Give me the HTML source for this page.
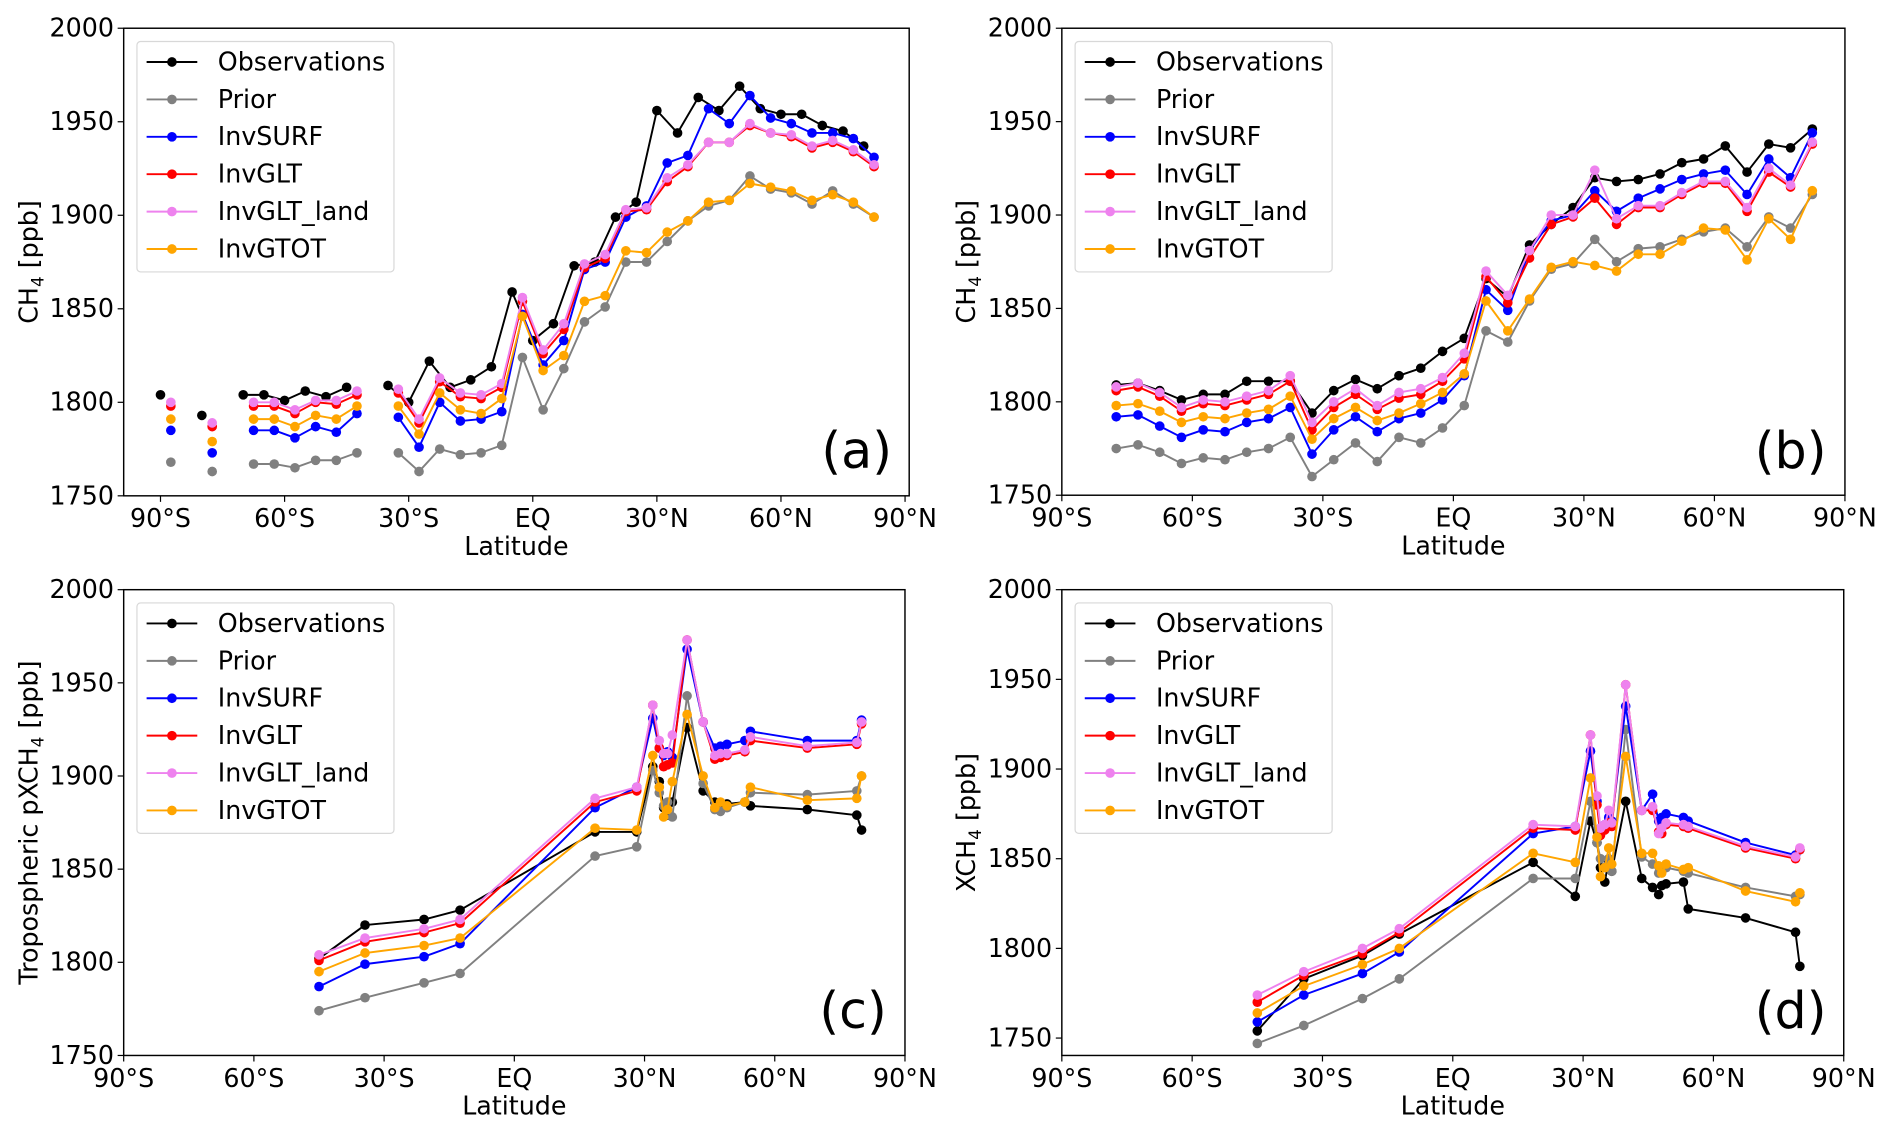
<!DOCTYPE html>
<html><head><meta charset="utf-8"><style>
html,body{margin:0;padding:0;background:#fff;}
svg{display:block;font-family:"DejaVu Sans","Liberation Sans",sans-serif;}
</style></head><body>
<svg id="fig" width="1892" height="1134" viewBox="0 0 1568 940" preserveAspectRatio="none" xmlns="http://www.w3.org/2000/svg"></svg>
<script>
const seriesNames = ["Observations","Prior","InvSURF","InvGLT","InvGLT_land","InvGTOT"];
const seriesColors = ["#000000","#808080","#0000ff","#ff0000","#ee82ee","#ffa500"];
const xTickVals = [-90,-60,-30,0,30,60,90];
const xTickLabels = ["90°S","60°S","30°S","EQ","30°N","60°N","90°N"];
const yTickVals = [1750,1800,1850,1900,1950,2000];

// Panel (a)
const aLatObs = [-90,-85,-80,-75,-70,-65,-60,-55,-50,-45,-40,-35,-30,-25,-20,-15,-10,-5,0,5,10,15,20,25,30,35,40,45,50,55,60,65,70,75,80];
const aLatM = [-87.5,-82.5,-77.5,-72.5,-67.5,-62.5,-57.5,-52.5,-47.5,-42.5,-37.5,-32.5,-27.5,-22.5,-17.5,-12.5,-7.5,-2.5,2.5,7.5,12.5,17.5,22.5,27.5,32.5,37.5,42.5,47.5,52.5,57.5,62.5,67.5,72.5,77.5,82.5];
const aObs = [1804,null,1793,null,1804,1804,1801,1806,1803,1808,null,1809,1800,1822,1808,1812,1819,1859,1833,1842,1873,1875,1899,1907,1956,1944,1963,1956,1969,1957,1954,1954,1948,1945,1937];
const aPrior = [1768,null,1763,null,1767,1767,1765,1769,1769,1773,null,1773,1763,1775,1772,1773,1777,1824,1796,1818,1843,1851,1875,1875,1886,1897,1905,1908,1921,1914,1912,1906,1913,1906,1899];
const aSurf = [1785,null,1773,null,1785,1785,1781,1787,1784,1794,null,1792,1776,1800,1790,1791,1795,1847,1820,1833,1871,1875,1899,1905,1928,1932,1957,1949,1964,1952,1949,1944,1944,1941,1931];
const aGlt = [1798,null,1787,null,1798,1798,1794,1800,1799,1804,null,1805,1789,1811,1803,1802,1808,1854,1826,1839,1872,1877,1902,1903,1918,1926,1939,1939,1948,1944,1942,1936,1939,1934,1926];
const aLand = [1800,null,1789,null,1800,1800,1796,1801,1801,1806,null,1807,1791,1813,1805,1804,1810,1856,1828,1842,1874,1879,1903,1904,1920,1927,1939,1939,1949,1944,1943,1937,1940,1935,1927];
const aGtot = [1791,null,1779,null,1791,1791,1787,1793,1791,1798,null,1798,1783,1805,1796,1794,1802,1846,1817,1825,1854,1857,1881,1880,1891,1897,1907,1908,1917,1915,1913,1908,1911,1907,1899];

// Panel (b)
const bLat = [-77.5,-72.5,-67.5,-62.5,-57.5,-52.5,-47.5,-42.5,-37.5,-32.5,-27.5,-22.5,-17.5,-12.5,-7.5,-2.5,2.5,7.5,12.5,17.5,22.5,27.5,32.5,37.5,42.5,47.5,52.5,57.5,62.5,67.5,72.5,77.5,82.5];
const bObs = [1809,1810,1806,1801,1804,1804,1811,1811,1811,1794,1806,1812,1807,1814,1818,1827,1834,1866,1856,1884,1895,1904,1920,1918,1919,1922,1928,1930,1937,1923,1938,1936,1946];
const bPrior = [1775,1777,1773,1767,1770,1769,1773,1775,1781,1760,1769,1778,1768,1781,1778,1786,1798,1838,1832,1854,1871,1874,1887,1875,1882,1883,1887,1891,1893,1883,1899,1893,1911];
const bSurf = [1792,1793,1787,1781,1785,1784,1789,1791,1797,1772,1785,1792,1784,1791,1794,1801,1814,1860,1849,1881,1897,1900,1913,1902,1909,1914,1919,1922,1924,1911,1930,1920,1944];
const bGlt = [1806,1808,1803,1795,1799,1798,1801,1804,1811,1785,1797,1804,1796,1802,1804,1811,1823,1867,1853,1877,1895,1899,1909,1895,1904,1904,1911,1917,1917,1902,1923,1915,1938];
const bLand = [1808,1810,1805,1797,1801,1800,1803,1806,1814,1789,1800,1807,1798,1805,1807,1813,1826,1870,1857,1881,1900,1900,1924,1898,1905,1905,1912,1918,1918,1904,1925,1916,1939];
const bGtot = [1798,1799,1795,1789,1792,1791,1794,1796,1803,1780,1791,1797,1790,1794,1799,1805,1815,1854,1838,1855,1872,1875,1873,1870,1879,1879,1886,1893,1892,1876,1898,1887,1913];

// Panel (c)
const cLat = [-45,-34.4,-20.8,-12.5,18.6,28.2,31.9,33.4,34.4,35.3,36.4,39.8,43.5,46.2,47.5,49.0,53.1,54.4,67.5,78.9,80.0];
const cObs = [1802,1820,1823,1828,1870,1870,1905,1897,1883,1879,1886,1926,1892,1886,1884,1885,1886,1884,1882,1879,1871];
const cPrior = [1774,1781,1789,1794,1857,1862,1903,1891,1884,1886,1878,1943,1896,1882,1881,1883,1886,1891,1890,1892,1900];
const cSurf = [1787,1799,1803,1810,1883,1894,1931,1915,1911,1913,1910,1968,1929,1915,1916,1917,1919,1924,1919,1919,1930];
const cGlt = [1801,1811,1816,1821,1886,1892,1938,1915,1905,1906,1907,1973,1929,1909,1910,1911,1913,1919,1915,1917,1928];
const cLand = [1804,1813,1818,1823,1888,1894,1938,1919,1912,1912,1922,1973,1929,1911,1912,1912,1914,1921,1916,1918,1929];
const cGtot = [1795,1805,1809,1813,1872,1871,1911,1894,1878,1882,1897,1933,1900,1883,1886,1884,1886,1894,1887,1888,1900];

// Panel (d)
const dLat = [-45,-34.3,-20.8,-12.3,18.5,28.2,31.7,33.2,34.0,35.0,35.9,36.6,39.8,43.5,46.0,47.4,48.1,49.1,53.1,54.2,67.4,78.9,79.9];
const dObs = [1754,1783,1796,1808,1848,1829,1871,1859,1845,1837,1849,1843,1882,1839,1834,1830,1835,1836,1837,1822,1817,1809,1790];
const dPrior = [1747,1757,1772,1783,1839,1839,1882,1859,1850,1845,1850,1843,1922,1851,1847,1842,1843,1845,1843,1842,1834,1829,1830];
const dSurf = [1759,1774,1786,1798,1864,1868,1910,1882,1867,1869,1873,1871,1935,1877,1886,1871,1873,1875,1873,1871,1859,1852,1855];
const dGlt = [1770,1785,1797,1809,1867,1866,1919,1880,1863,1866,1870,1868,1947,1877,1877,1865,1864,1869,1868,1867,1856,1850,1855];
const dLand = [1774,1787,1800,1811,1869,1868,1919,1885,1867,1869,1877,1870,1947,1877,1879,1864,1867,1870,1869,1868,1857,1851,1856];
const dGtot = [1764,1779,1791,1800,1853,1848,1895,1862,1840,1845,1856,1847,1907,1853,1853,1846,1842,1847,1844,1845,1832,1826,1831];

const NS = "http://www.w3.org/2000/svg";
const svg = document.getElementById("fig");
function mk(tag, attrs, parent) {
  const e = document.createElementNS(NS, tag);
  for (const k in attrs) e.setAttribute(k, attrs[k]);
  (parent || svg).appendChild(e);
  return e;
}

function drawPanel(p) {
  const g = mk("g", {});
  
  
  const xs = v => p.x0 + (v - p.xmin) / (p.xmax - p.xmin) * (p.x1 - p.x0);
  const ys = v => p.y1 - (v - p.ymin) / (p.ymax - p.ymin) * (p.y1 - p.y0);
  // y ticks
  yTickVals.forEach(v => {
    if (v < p.ymin) return;
    const y = ys(v);
    const t = mk("line", {x1: p.x0 - 5, x2: p.x0, y1: y, y2: y, stroke: "#000", "stroke-width": 1}, g);
    
    
    const tx = mk("text", {x: p.x0 - 8, y: y + 7, "text-anchor": "end", "font-size": 21}, g);
    tx.textContent = v;
    
    
  });
  // x ticks
  xTickVals.forEach((v, i) => {
    const x = xs(v);
    const t = mk("line", {x1: x, x2: x, y1: p.y1, y2: p.y1 + 5, stroke: "#000", "stroke-width": 1}, g);
    
    
    const tx = mk("text", {x: x, y: p.y1 + 26, "text-anchor": "middle", "font-size": 21}, g);
    tx.textContent = xTickLabels[i];
    
    
  });
  const xl = mk("text", {x: (p.x0 + p.x1) / 2, y: p.y1 + 49, "text-anchor": "middle", "font-size": 21}, g);
  xl.textContent = "Latitude";
  
  
  const yl = mk("text", {x: 0, y: 0, "text-anchor": "middle", "font-size": 21, transform: "translate(" + p.ylx + "," + ((p.y0 + p.y1) / 2) + ") rotate(-90)"}, g);
  yl.innerHTML = p.ylabel;
  
  
  // series
  p.series.forEach((s, si) => {
    const col = seriesColors[si];
    const lats = s.lat, vals = s.vals;
    const sg = mk("g", {}, g);
    
    
    let d = "", pen = false;
    for (let i = 0; i < vals.length; i++) {
      if (vals[i] === null) { pen = false; continue; }
      d += (pen ? "L" : "M") + xs(lats[i]).toFixed(1) + " " + ys(vals[i]).toFixed(1);
      pen = true;
    }
    const ln = mk("path", {d: d, fill: "none", stroke: col, "stroke-width": 1.6, "stroke-linejoin": "round"}, sg);
    
    
    for (let i = 0; i < vals.length; i++) {
      if (vals[i] === null) continue;
      const c = mk("circle", {cx: xs(lats[i]), cy: ys(vals[i]), r: 4, fill: col}, sg);
      
      
    }
  });
  // frame
  const fr = mk("rect", {x: p.x0, y: p.y0, width: p.x1 - p.x0, height: p.y1 - p.y0, fill: "none", stroke: "#000", "stroke-width": 1.2}, g);
  
  
  // legend
  const lg = mk("g", {}, g);
  
  
  const lx = p.x0 + 11, ly = p.y0 + 11;
  mk("rect", {x: lx, y: ly, width: 213, height: 191, rx: 3, fill: "#fff", "fill-opacity": 0.85, stroke: "#d8d8d8", "stroke-width": 1}, lg);
  seriesNames.forEach((n, i) => {
    const yy = ly + 17 + i * 31;
    const e = mk("g", {}, lg);
    
    
    mk("line", {x1: lx + 8, x2: lx + 50, y1: yy, y2: yy, stroke: seriesColors[i], "stroke-width": 1.6}, e);
    mk("circle", {cx: lx + 29, cy: yy, r: 4, fill: seriesColors[i]}, e);
    const t = mk("text", {x: lx + 67, y: yy + 7, "font-size": 21}, e);
    t.textContent = n;
  });
  const pl = mk("text", {x: p.plx, y: p.ply, "text-anchor": "middle", "font-size": 42}, g);
  pl.textContent = "(" + p.id + ")";
  
  
}

const sub = '<tspan>CH</tspan><tspan font-size="14" dy="5">4</tspan><tspan dy="-5"> [ppb]</tspan>';
drawPanel({id: "a", x0: 102.5, x1: 753.5, y0: 23.4, y1: 411, xmin: -98.9, xmax: 91, ymin: 1750, ymax: 2000,
  ylx: 31, ylabel: sub, plx: 710, ply: 388,
  series: [{lat: aLatObs, vals: aObs}, {lat: aLatM, vals: aPrior}, {lat: aLatM, vals: aSurf}, {lat: aLatM, vals: aGlt}, {lat: aLatM, vals: aLand}, {lat: aLatM, vals: aGtot}]});
drawPanel({id: "b", x0: 880, x1: 1529, y0: 23.4, y1: 410.5, xmin: -90, xmax: 90, ymin: 1750, ymax: 2000,
  ylx: 808, ylabel: sub, plx: 1484, ply: 388,
  series: [{lat: bLat, vals: bObs}, {lat: bLat, vals: bPrior}, {lat: bLat, vals: bSurf}, {lat: bLat, vals: bGlt}, {lat: bLat, vals: bLand}, {lat: bLat, vals: bGtot}]});
drawPanel({id: "c", x0: 102.5, x1: 750, y0: 488.8, y1: 874.9, xmin: -90, xmax: 90, ymin: 1750, ymax: 2000,
  ylx: 31, ylabel: '<tspan>Tropospheric pXCH</tspan><tspan font-size="14" dy="5">4</tspan><tspan dy="-5"> [ppb]</tspan>', plx: 707, ply: 852,
  series: [{lat: cLat, vals: cObs}, {lat: cLat, vals: cPrior}, {lat: cLat, vals: cSurf}, {lat: cLat, vals: cGlt}, {lat: cLat, vals: cLand}, {lat: cLat, vals: cGtot}]});
drawPanel({id: "d", x0: 880, x1: 1528, y0: 488.8, y1: 874.9, xmin: -90, xmax: 90, ymin: 1740.3, ymax: 2000,
  ylx: 808, ylabel: '<tspan>XCH</tspan><tspan font-size="14" dy="5">4</tspan><tspan dy="-5"> [ppb]</tspan>', plx: 1484, ply: 852,
  series: [{lat: dLat, vals: dObs}, {lat: dLat, vals: dPrior}, {lat: dLat, vals: dSurf}, {lat: dLat, vals: dGlt}, {lat: dLat, vals: dLand}, {lat: dLat, vals: dGtot}]});
</script>
</body></html>
